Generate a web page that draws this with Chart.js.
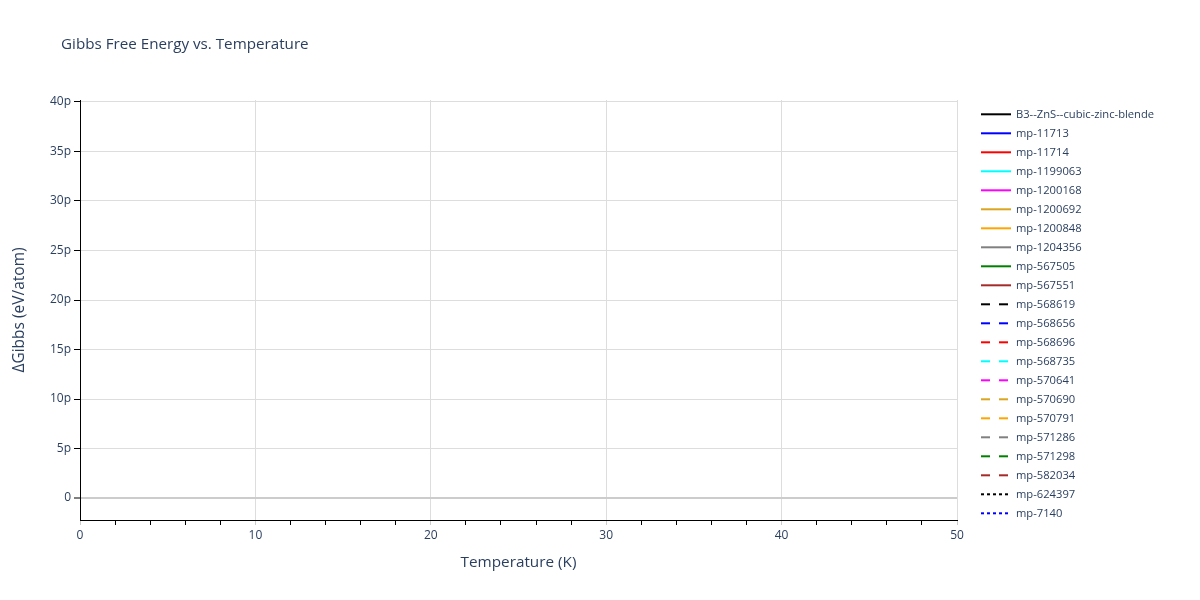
<!DOCTYPE html>
<html>
<head>
<meta charset="utf-8">
<script src="https://cdn.jsdelivr.net/npm/chart.js@4/dist/chart.umd.min.js"></script>
<style>
  html, body { margin: 0; padding: 0; background: #fff; }
  #wrap { width: 1200px; height: 600px; }
</style>
</head>
<body>
<div id="wrap"><canvas id="chart"></canvas></div>
<script>
"use strict";

// series names as shown in the legend
const seriesNames = [
  "B3--ZnS--cubic-zinc-blende", "mp-11713", "mp-11714", "mp-1199063",
  "mp-1200168", "mp-1200692", "mp-1200848", "mp-1204356", "mp-567505",
  "mp-567551", "mp-568619", "mp-568656", "mp-568696", "mp-568735",
  "mp-570641", "mp-570690", "mp-570791", "mp-571286", "mp-571298",
  "mp-582034", "mp-624397", "mp-7140",
];
const seriesColors = [
  "#000000", "#0000ff", "#ff0000", "#00ffff", "#ff00ff", "#daa520",
  "#ffa500", "#808080", "#008000", "#a52a2a",
  "#000000", "#0000ff", "#ff0000", "#00ffff", "#ff00ff", "#daa520",
  "#ffa500", "#808080", "#008000", "#a52a2a",
  "#000000", "#0000ff",
];
const seriesDash = [
  "solid", "solid", "solid", "solid", "solid", "solid", "solid", "solid", "solid", "solid",
  "dash", "dash", "dash", "dash", "dash", "dash", "dash", "dash", "dash", "dash",
  "dot", "dot",
];

// every curve sits on the zero line: only T = 0 is plotted
const temperatures = [0];
const gibbsValues = seriesNames.map(() => [0]);

const xTicks = [0, 2, 4, 6, 8, 10, 12, 14, 16, 18, 20, 22, 24, 26, 28, 30,
  32, 34, 36, 38, 40, 42, 44, 46, 48, 50];
const yTicks = [0, 5e-12, 10e-12, 15e-12, 20e-12, 25e-12, 30e-12, 35e-12, 40e-12];

const textColor = "#2a3f5f";
const fontFamily = '"Open Sans", "DejaVu Sans", sans-serif';

const dashPattern = (d) => (d === "dash" ? [9, 9] : d === "dot" ? [3, 3] : []);

const datasets = seriesNames.map((name, i) => ({
  label: name,
  data: temperatures.map((t, j) => ({ x: t, y: gibbsValues[i][j] })),
  borderColor: seriesColors[i],
  backgroundColor: seriesColors[i],
  borderWidth: 2,
  borderDash: dashPattern(seriesDash[i]),
  pointRadius: 0,
  fill: false,
}));

// title + legend drawn at plotly-like positions
const decorations = {
  id: "decorations",
  afterDraw: (chart) => {
    const { ctx } = chart;
    ctx.save();
    ctx.fillStyle = textColor;
    ctx.font = `15.2px ${fontFamily}`;
    ctx.textBaseline = "middle";
    ctx.fillText("Gibbs Free Energy vs. Temperature", 61, 45);

    ctx.font = `11.2px ${fontFamily}`;
    chart.data.datasets.forEach((ds, i) => {
      const y = 114.3 + i * 19;
      ctx.beginPath();
      ctx.strokeStyle = ds.borderColor;
      ctx.lineWidth = 2;
      ctx.setLineDash(ds.borderDash);
      ctx.moveTo(981, y);
      ctx.lineTo(1011, y);
      ctx.stroke();
      ctx.setLineDash([]);
      ctx.fillStyle = textColor;
      ctx.fillText(ds.label, 1016, y + 0.5);
    });
    ctx.restore();
  },
};

const isMajor = (v) => Math.abs(v % 10) < 1e-9;

new Chart(document.getElementById("chart"), {
  type: "line",
  data: { datasets },
  plugins: [decorations],
  options: {
    responsive: true,
    maintainAspectRatio: false,
    animation: false,
    layout: { padding: { top: 100, right: 243, bottom: 0, left: 0 } },
    plugins: {
      legend: { display: false },
      title: { display: false },
      tooltip: { enabled: false },
    },
    scales: {
      x: {
        type: "linear",
        min: 0,
        max: 50,
        afterFit: (s) => { s.height = 80; },
        afterBuildTicks: (s) => { s.ticks = xTicks.map((v) => ({ value: v })); },
        border: { display: true, color: "#000000", width: 1 },
        grid: {
          color: (c) => (isMajor(c.tick.value) ? "#dddddd" : "rgba(0,0,0,0)"),
          tickColor: (c) => (isMajor(c.tick.value) ? "#cccccc" : "#000000"),
          lineWidth: 1,
          tickWidth: 1,
          tickLength: 5,
        },
        ticks: {
          autoSkip: false,
          maxRotation: 0,
          padding: 3,
          color: textColor,
          font: { family: fontFamily, size: 12 },
          callback: (v) => (isMajor(v) ? String(v) : ""),
        },
        title: {
          display: true,
          text: "Temperature (K)",
          color: textColor,
          font: { family: fontFamily, size: 15.3 },
          padding: { top: 0, bottom: 27.8 },
        },
      },
      y: {
        type: "linear",
        min: -2.22e-12,
        max: 40.2e-12,
        afterFit: (s) => { s.width = 80; },
        afterBuildTicks: (s) => { s.ticks = yTicks.map((v) => ({ value: v })); },
        border: { display: true, color: "#000000", width: 1 },
        grid: {
          color: (c) => (c.tick.value === 0 ? "#cccccc" : "#dddddd"),
          lineWidth: (c) => (c.tick.value === 0 ? 2 : 1),
          tickColor: "#000000",
          tickWidth: 1,
          tickLength: 6,
        },
        ticks: {
          padding: 3,
          color: textColor,
          font: { family: fontFamily, size: 12 },
          callback: (v) => (v === 0 ? "0" : `${Math.round(v * 1e12)}p`),
        },
        title: {
          display: true,
          text: "ΔGibbs (eV/atom)",
          color: textColor,
          font: { family: fontFamily, size: 15.5 },
          padding: { top: 10.6, bottom: 0 },
        },
      },
    },
  },
});
</script>
</body>
</html>
